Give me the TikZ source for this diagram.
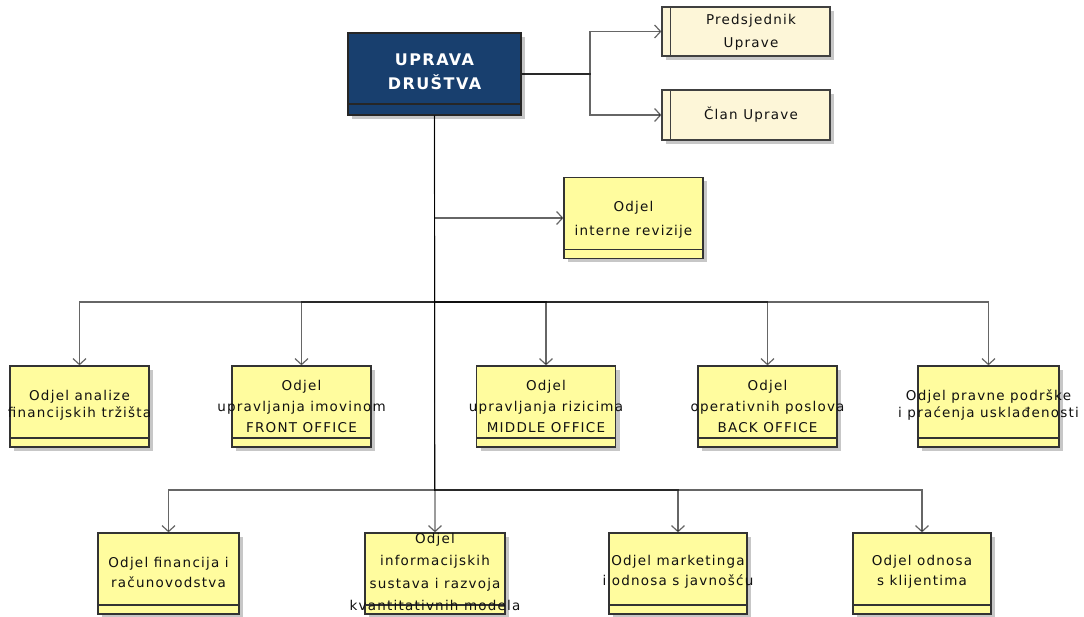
\documentclass[tikz,border=0pt]{standalone}
\usepackage{fontspec}
\setmainfont{DejaVu Sans}[LetterSpace=9]
\usetikzlibrary{arrows.meta,shadows,calc}
\definecolor{boxyellow}{HTML}{FFFC9E}
\definecolor{cream}{HTML}{FDF6D8}
\definecolor{navy}{HTML}{183F6E}
\definecolor{txtc}{HTML}{111111}
\begin{document}
\begin{tikzpicture}[x=1pt,y=-1pt,
  shd/.style={drop shadow={shadow xshift=4pt,shadow yshift=-4pt,fill=black,opacity=0.22}},
  ybox/.style={shd,draw=black!80,line width=1.2pt,fill=boxyellow,minimum width=139pt,minimum height=81pt,inner sep=0pt,
    path picture={\draw[line width=1.2pt,draw=black!80] ([yshift=9pt]path picture bounding box.south west) -- ([yshift=9pt]path picture bounding box.south east);}},
  cbox/.style={shd,draw=black!75,line width=1.2pt,fill=cream,minimum width=168pt,minimum height=49pt,inner sep=0pt,
    path picture={\draw[line width=1pt,draw=black!75] ([xshift=8pt]path picture bounding box.south west) -- ([xshift=8pt]path picture bounding box.north west);}},
  ubox/.style={shd,draw=black!85,line width=1.2pt,fill=navy,minimum width=173pt,minimum height=82pt,inner sep=0pt,
    path picture={\draw[line width=1.2pt,draw=black!85] ([yshift=11pt]path picture bounding box.south west) -- ([yshift=11pt]path picture bounding box.south east);}},
  txt/.style={text=txtc,align=center,inner sep=0pt,font=\fontsize{13.5}{21}\selectfont},
  txtb/.style={txt,font=\fontsize{13.5}{17}\selectfont},
  txtc/.style={txt,font=\fontsize{13.5}{20}\selectfont},
  txtd/.style={txt,font=\fontsize{13.5}{23}\selectfont},
  utxt/.style={text=white,align=center,inner sep=0pt,font=\fontsize{16}{24}\selectfont\bfseries},
  conn/.style={draw=black,draw opacity=0.6,line width=1.2pt,-{Straight Barb[length=6pt,width=13pt]}}
]
\useasboundingbox (0,0) rectangle (1084,617);

% boxes
\node[ubox] (U) at (434.5,74) {};
\node[cbox] (P) at (746,31.5) {};
\node[cbox,minimum height=50pt] (C) at (746,115) {};
\node[ybox] (IR) at (633.5,218) {};

\node[ybox] (A1) at (79.5,406.5) {};
\node[ybox] (A2) at (301.5,406.5) {};
\node[ybox] (A3) at (546,406.5) {};
\node[ybox] (A4) at (767.5,406.5) {};
\node[ybox,minimum width=141pt] (A5) at (988.5,406.5) {};

\node[ybox,minimum width=141pt] (B1) at (168.5,573.5) {};
\node[ybox,minimum width=140pt] (B2) at (435,573.5) {};
\node[ybox,minimum width=138pt] (B3) at (678,573.5) {};
\node[ybox,minimum width=138pt] (B4) at (922,573.5) {};

% junction coordinates
\coordinate (bus1) at (435,302);
\coordinate (bus2) at (435,490);
\coordinate (j) at (590,74);

% connectors
\draw[conn] (U.east) -- (j) |- (P.west);
\draw[conn] (U.east) -- (j) |- (C.west);
\draw[conn] (U.south) |- (IR.west);
\draw[conn] (U.south) -- (U.south |- bus1) -| (A1.north);
\draw[conn] (U.south) -- (U.south |- bus1) -| (A2.north);
\draw[conn] (U.south) -- (U.south |- bus1) -| (A3.north);
\draw[conn] (U.south) -- (U.south |- bus1) -| (A4.north);
\draw[conn] (U.south) -- (U.south |- bus1) -| (A5.north);
\draw[conn] (U.south) -- (U.south |- bus2) -| (B1.north);
\draw[conn] (U.south) -- (B2.north);
\draw[conn] (U.south) -- (U.south |- bus2) -| (B3.north);
\draw[conn] (U.south) -- (U.south |- bus2) -| (B4.north);

% texts
\node[utxt] (tU) at ([yshift=2pt]U.center) {UPRAVA\\DRUŠTVA};
\node[txtd] (tP) at ([xshift=5pt,yshift=-1pt]P.center) {Predsjednik\\Uprave};
\node[txt] (tC) at ([xshift=5pt]C.center) {Član Uprave};
\node[txt,font=\fontsize{13.5}{24}\selectfont] (tIR) at ([yshift=-2pt]IR.center) {Odjel\\interne revizije};

\node[txtb] (tA1) at ([yshift=1pt]A1.center) {Odjel analize\\financijskih tržišta};
\node[txt] (tA2) at (A2.center) {Odjel\\upravljanja imovinom\\FRONT OFFICE};
\node[txt] (tA3) at (A3.center) {Odjel\\upravljanja rizicima\\MIDDLE OFFICE};
\node[txt] (tA4) at (A4.center) {Odjel\\operativnih poslova\\BACK OFFICE};
\node[txtb] (tA5) at ([yshift=1pt]A5.center) {Odjel pravne podrške\\i praćenja usklađenosti};

\node[txtc] (tB1) at ([yshift=1.5pt]B1.center) {Odjel financija i\\računovodstva};
\node[txt,font=\fontsize{13.5}{22.5}\selectfont] (tB2) at ([yshift=1.5pt]B2.center) {Odjel\\informacijskih\\sustava i razvoja\\kvantitativnih modela};
\node[txtc] (tB3) at ([yshift=1.5pt]B3.center) {Odjel marketinga\\i odnosa s javnošću};
\node[txtc] (tB4) at ([yshift=1.5pt]B4.center) {Odjel odnosa\\s klijentima};
\end{tikzpicture}
\end{document}
